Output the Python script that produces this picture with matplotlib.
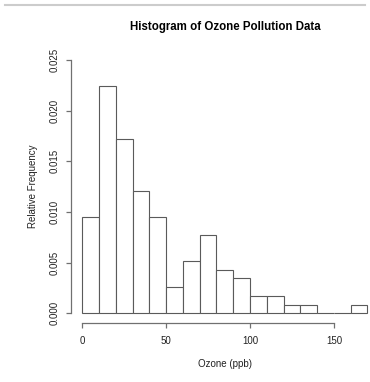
import numpy as np
import matplotlib.pyplot as plt
from matplotlib.lines import Line2D

plt.rcParams['font.family'] = ['Liberation Sans', 'DejaVu Sans']

# ozone histogram, bins of 10 ppb
bin_edges = list(range(0, 180, 10))
counts = [11, 26, 20, 14, 11, 3, 6, 9, 5, 4, 2, 2, 1, 1, 0, 0, 1]
n_obs = 116

dens = np.array(counts) / (n_obs * 10.0)

W, H = 370, 382
fig = plt.figure(figsize=(W / 100., H / 100.), dpi=100)

# plot region in pixels (left, top, right, bottom measured from top-left)
x0, x1, y0, y1 = 70.8, 378.9, 49.9, 323.4
ax = fig.add_axes([x0 / W, 1 - y1 / H, (x1 - x0) / W, (y1 - y0) / H])

ax.bar(bin_edges[:-1], dens, width=10, align='edge', facecolor='white',
       edgecolor='#5a5a5a', lw=0.8)

ax.set_xlim(-6.8, 176.8)
ax.set_ylim(-0.001, 0.026)
for s in ['top', 'right']:
    ax.spines[s].set_visible(False)
ax.spines['bottom'].set_bounds(0, 150)
ax.spines['left'].set_bounds(0, 0.025)
for s in ['bottom', 'left']:
    ax.spines[s].set_color('#707070')
    ax.spines[s].set_linewidth(0.9)

ax.set_xticks([0, 50, 100, 150])
ax.set_yticks(np.arange(0, 0.0251, 0.005))
ax.set_yticklabels(['%.3f' % v for v in np.arange(0, 0.0251, 0.005)],
                   rotation=90, va='center')
ax.tick_params(direction='out', length=3.6, width=0.9, color='#707070',
               labelsize=7, labelcolor='#222222')
ax.tick_params(axis='x', pad=5.5)
ax.tick_params(axis='y', pad=4.5)

ax.set_xlabel('Ozone (ppb)', fontsize=7, color='#222222', labelpad=9)
ax.set_ylabel('Relative Frequency', fontsize=7, color='#222222', labelpad=8)

fig.text(225 / W, 1 - 27 / H, 'Histogram of Ozone Pollution Data',
         ha='center', va='center', fontsize=8.3, fontweight='bold')

fig.add_artist(Line2D([5 / W, 365 / W], [1 - 5 / H, 1 - 5 / H],
                      color='#cccccc', lw=1.5))

fig.savefig('out.png', dpi=100)
